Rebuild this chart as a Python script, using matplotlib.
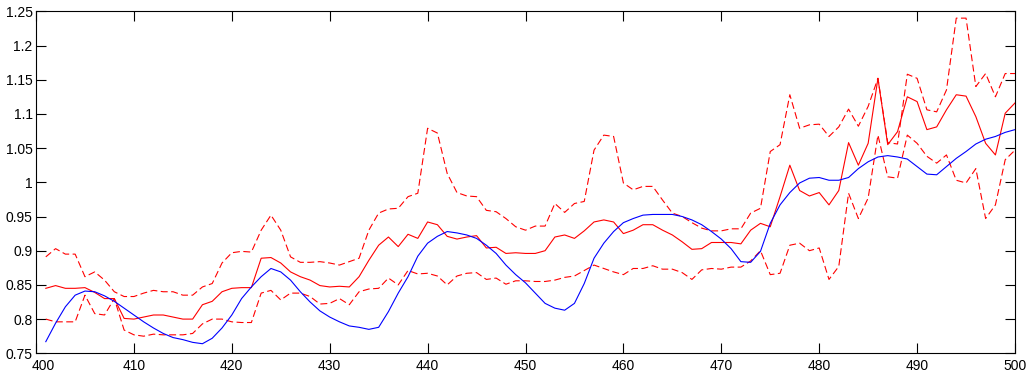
import matplotlib
matplotlib.use("Agg")
import matplotlib.pyplot as plt
import matplotlib.transforms as mtransforms
import numpy as np

plt.rcParams['font.family'] = ['Liberation Sans', 'DejaVu Sans']
plt.rcParams['lines.scale_dashes'] = False

wavelength = list(range(401, 501))

upper = [0.891, 0.903, 0.895, 0.895, 0.862, 0.869, 0.857, 0.840, 0.833, 0.833,
         0.838, 0.842, 0.840, 0.840, 0.835, 0.835, 0.847, 0.852, 0.882, 0.897,
         0.899, 0.898, 0.930, 0.952, 0.930, 0.891, 0.883, 0.883, 0.884, 0.882,
         0.879, 0.884, 0.889, 0.930, 0.955, 0.961, 0.962, 0.979, 0.984, 1.079,
         1.072, 1.013, 0.985, 0.980, 0.979, 0.959, 0.957, 0.947, 0.935, 0.930,
         0.936, 0.936, 0.969, 0.956, 0.969, 0.972, 1.047, 1.069, 1.067, 0.999,
         0.989, 0.994, 0.994, 0.974, 0.955, 0.950, 0.941, 0.933, 0.929, 0.929,
         0.932, 0.932, 0.955, 0.962, 1.045, 1.055, 1.128, 1.079, 1.084, 1.085,
         1.067, 1.081, 1.107, 1.082, 1.111, 1.152, 1.058, 1.056, 1.158, 1.152,
         1.106, 1.103, 1.135, 1.240, 1.240, 1.140, 1.159, 1.125, 1.159, 1.159]

mean = [0.845, 0.849, 0.845, 0.845, 0.846, 0.839, 0.830, 0.830, 0.801, 0.800,
        0.803, 0.806, 0.806, 0.803, 0.800, 0.800, 0.821, 0.826, 0.840, 0.845,
        0.846, 0.846, 0.889, 0.890, 0.882, 0.869, 0.862, 0.857, 0.849, 0.847,
        0.848, 0.847, 0.862, 0.886, 0.908, 0.920, 0.906, 0.924, 0.918, 0.942,
        0.938, 0.921, 0.917, 0.920, 0.922, 0.904, 0.905, 0.896, 0.897, 0.896,
        0.896, 0.900, 0.920, 0.923, 0.918, 0.929, 0.942, 0.945, 0.942, 0.925,
        0.930, 0.938, 0.938, 0.930, 0.923, 0.913, 0.902, 0.903, 0.912, 0.912,
        0.912, 0.910, 0.930, 0.940, 0.935, 0.979, 1.025, 0.988, 0.980, 0.985,
        0.967, 0.988, 1.058, 1.025, 1.057, 1.152, 1.055, 1.074, 1.125, 1.118,
        1.077, 1.081, 1.106, 1.128, 1.126, 1.096, 1.057, 1.040, 1.101, 1.116]

lower = [0.800, 0.796, 0.796, 0.796, 0.835, 0.808, 0.806, 0.830, 0.784, 0.777,
         0.775, 0.778, 0.777, 0.777, 0.777, 0.779, 0.793, 0.800, 0.800, 0.796,
         0.795, 0.795, 0.838, 0.842, 0.828, 0.838, 0.838, 0.833, 0.822, 0.823,
         0.830, 0.821, 0.840, 0.844, 0.845, 0.860, 0.850, 0.871, 0.866, 0.867,
         0.863, 0.850, 0.863, 0.867, 0.868, 0.858, 0.860, 0.851, 0.856, 0.856,
         0.855, 0.855, 0.857, 0.861, 0.863, 0.871, 0.879, 0.874, 0.869, 0.865,
         0.874, 0.874, 0.878, 0.873, 0.873, 0.868, 0.858, 0.872, 0.874, 0.873,
         0.876, 0.876, 0.885, 0.900, 0.865, 0.867, 0.908, 0.911, 0.900, 0.904,
         0.858, 0.877, 0.984, 0.947, 0.977, 1.069, 1.008, 1.006, 1.069, 1.057,
         1.038, 1.028, 1.040, 1.003, 0.999, 1.020, 0.947, 0.967, 1.033, 1.047]

model = [0.767, 0.794, 0.818, 0.835, 0.841, 0.840, 0.834, 0.826, 0.816, 0.806,
         0.796, 0.787, 0.779, 0.773, 0.770, 0.766, 0.764, 0.772, 0.787, 0.806,
         0.830, 0.847, 0.862, 0.874, 0.869, 0.857, 0.840, 0.825, 0.812, 0.803,
         0.796, 0.790, 0.788, 0.785, 0.788, 0.811, 0.838, 0.862, 0.892, 0.911,
         0.921, 0.928, 0.926, 0.923, 0.918, 0.908, 0.896, 0.879, 0.865, 0.853,
         0.838, 0.823, 0.816, 0.813, 0.823, 0.852, 0.889, 0.911, 0.928, 0.941,
         0.947, 0.952, 0.953, 0.953, 0.953, 0.950, 0.945, 0.938, 0.928, 0.917,
         0.903, 0.884, 0.883, 0.899, 0.940, 0.967, 0.985, 0.999, 1.006, 1.007,
         1.003, 1.003, 1.007, 1.020, 1.030, 1.037, 1.039, 1.037, 1.034, 1.023,
         1.012, 1.011, 1.023, 1.035, 1.045, 1.056, 1.063, 1.067, 1.073, 1.077]

xticks = [400, 410, 420, 430, 440, 450, 460, 470, 480, 490, 500]
yticks = [0.75, 0.8, 0.85, 0.9, 0.95, 1.0, 1.05, 1.1, 1.15, 1.2, 1.25]

fig = plt.figure(figsize=(10.31, 3.76), dpi=100, facecolor='white')
ax = fig.add_axes([36/1031, 1 - 353.3/376, (1015 - 36)/1031, (353.3 - 11.3)/376])

lw = 0.8
ax.plot(wavelength, upper, color=(1, 0, 0), lw=lw, linestyle=(0, (5, 2.5)))
ax.plot(wavelength, lower, color=(1, 0, 0), lw=lw, linestyle=(0, (5, 2.5)))
ax.plot(wavelength, mean, color=(1, 0, 0), lw=lw)
ax.plot(wavelength, model, color=(0, 0, 1), lw=lw)

ax.set_xlim(400, 500)
ax.set_ylim(0.75, 1.25)
ax.set_xticks(xticks)
ax.set_xticklabels([f"{t:g}" for t in xticks])
ax.set_yticks(yticks)
ax.set_yticklabels([f"{t:g}" for t in yticks])
ax.tick_params(direction='in', length=7, width=0.8, top=True, right=True,
               labelsize=10, colors='black')
ax.tick_params(axis='y', pad=2.5)
ax.tick_params(axis='x', pad=4)
for s in ax.spines.values():
    s.set_linewidth(0.8)
    s.set_color('black')

# first x label sits slightly right of its tick, as in the reference
first = ax.get_xticklabels()[0]
first.set_transform(first.get_transform() +
                    mtransforms.ScaledTranslation(7/100, 0, fig.dpi_scale_trans))

fig.savefig("out.png", dpi=100, facecolor='white')
